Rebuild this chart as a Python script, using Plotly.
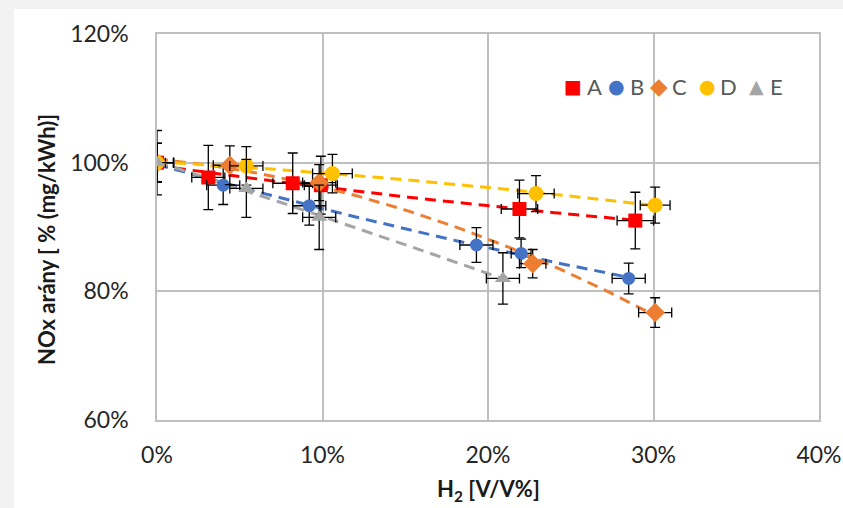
import numpy as np
import plotly.graph_objects as go

# ---- data (H2 content in %, NOx ratio in %) ----
names = ["A", "B", "C", "D", "E"]

a_x = [0, 3.1, 8.2, 9.9, 21.9, 28.9]
a_y = [100, 97.7, 96.8, 96.5, 92.8, 91.0]
a_ey = [5.0, 5.0, 4.7, 4.5, 4.5, 4.4]
a_ex = [1.0, 1.0, 1.2, 1.0, 1.1, 1.1]

b_x = [0, 4.0, 9.2, 19.3, 22.0, 28.5]
b_y = [100, 96.5, 93.3, 87.2, 85.9, 82.0]
b_ey = [3.0, 3.0, 3.0, 2.7, 2.2, 2.4]
b_ex = [1.0, 1.0, 1.0, 1.0, 0.6, 1.0]

c_x = [0, 4.4, 9.8, 22.7, 30.1]
c_y = [100, 99.6, 96.9, 84.3, 76.7]
c_ey = [3.0, 3.0, 2.8, 2.2, 2.3]
c_ex = [0.5, 1.0, 1.0, 0.8, 1.0]

d_x = [0, 5.4, 10.6, 22.9, 30.1]
d_y = [100, 99.5, 98.3, 95.2, 93.4]
d_ey = [3.0, 3.0, 3.0, 2.8, 2.8]
d_ex = [1.0, 1.0, 1.2, 1.1, 0.9]

e_x = [0, 5.4, 9.8, 20.9]
e_y = [100, 96.0, 91.5, 82.0]
e_ey = [3.0, 4.5, 5.0, 4.0]
e_ex = [1.0, 1.0, 1.0, 1.0]

x_ticks = [0, 10, 20, 30, 40]
x_labels = ["0%", "10%", "20%", "30%", "40%"]
y_ticks = [60, 80, 100, 120]
y_labels = ["60%", "80%", "100%", "120%"]

colors = ["#FF0000", "#4472C4", "#ED7D31", "#FFC000", "#A5A5A5"]
symbols = ["square", "circle", "diamond", "circle", "triangle-up"]
sizes = [14, 13, 15, 15, 14]
legend_glyphs = ["\u25A0", "\u25CF", "\u25C6", "\u25CF", "\u25B2"]
legend_glyph_sizes = [19, 19, 23, 19, 19]

series = list(zip(names,
                  [a_x, b_x, c_x, d_x, e_x],
                  [a_y, b_y, c_y, d_y, e_y],
                  [a_ex, b_ex, c_ex, d_ex, e_ex],
                  [a_ey, b_ey, c_ey, d_ey, e_ey],
                  colors, symbols, sizes))

FONT = "Lato"
W, H = 843, 508
L, R, T, B = 157, 24, 34, 88
PW, PH = W - L - R, H - T - B


def px_x(px):
    return (px - L) / PW


def px_y(py):
    return (H - B - py) / PH


fig = go.Figure()

# polynomial (2nd order) trendlines, behind markers
for name, xs, ys, ex, ey, col, sym, sz in series:
    coef = np.polyfit(xs, ys, 2)
    xf = np.linspace(min(xs), max(xs), 60)
    fig.add_trace(go.Scatter(
        x=xf, y=np.polyval(coef, xf), mode="lines",
        line=dict(color=col, width=3, dash="11px,7px"),
        showlegend=False, hoverinfo="skip"))

for name, xs, ys, ex, ey, col, sym, sz in series:
    fig.add_trace(go.Scatter(
        x=xs, y=ys, mode="markers", name=name, showlegend=False,
        marker=dict(symbol=sym, size=sz, color=col, line=dict(width=0)),
        error_y=dict(type="data", array=ey, color="#000000", thickness=1.3, width=5),
        error_x=dict(type="data", array=ex, color="#000000", thickness=1.3, width=5),
    ))

axis_common = dict(
    showgrid=True, gridcolor="#BFBFBF", gridwidth=1.5,
    showline=True, mirror=True, linecolor="#BFBFBF", linewidth=1.5,
    zeroline=False, tickmode="array",
    tickfont=dict(family=FONT, size=23, color="#262626"),
)

# legend drawn as text items inside the plot, top right
legend_marker_px = [573, 616, 659, 707, 756]
legend_text_px = [594, 637, 679, 728, 776]
legend_y_px = 86
legend_ann = []
for i, name in enumerate(names):
    legend_ann.append(dict(
        text=legend_glyphs[i], xref="paper", yref="paper",
        x=px_x(legend_marker_px[i]), y=px_y(legend_y_px),
        showarrow=False, xanchor="center", yanchor="middle",
        font=dict(family="DejaVu Sans", size=legend_glyph_sizes[i], color=colors[i])))
    legend_ann.append(dict(
        text=name, xref="paper", yref="paper",
        x=px_x(legend_text_px[i]), y=px_y(legend_y_px),
        showarrow=False, xanchor="center", yanchor="middle",
        font=dict(family=FONT, size=22, color="#595959")))

fig.update_layout(
    width=W, height=H,
    margin=dict(l=L, r=R, t=T, b=B, autoexpand=False),
    paper_bgcolor="#F2F2F2",
    plot_bgcolor="#FFFFFF",
    xaxis=dict(range=[0, 40], tickvals=x_ticks, ticktext=x_labels,
               ticklabelstandoff=14, **axis_common),
    yaxis=dict(range=[60, 120], tickvals=y_ticks, ticktext=y_labels,
               ticklabelstandoff=22, **axis_common),
    showlegend=False,
    shapes=[dict(type="rect", xref="paper", yref="paper", layer="below",
                 x0=px_x(14), x1=px_x(W), y0=px_y(H), y1=px_y(9),
                 fillcolor="#FFFFFF", line=dict(width=0))],
    annotations=[
        dict(text="<b>NOx arány [ % (mg/kWh)]</b>", xref="paper", yref="paper",
             x=px_x(46), y=px_y(240), textangle=-90,
             showarrow=False, xanchor="center", yanchor="middle",
             font=dict(family=FONT, size=22, color="#1a1a1a")),
        dict(text="<b>H<sub>2</sub> [V/V%]</b>", xref="paper", yref="paper",
             x=0.5, y=px_y(490), showarrow=False,
             xanchor="center", yanchor="middle",
             font=dict(family=FONT, size=22, color="#1a1a1a")),
    ] + legend_ann,
)

fig.write_html("out.html")
